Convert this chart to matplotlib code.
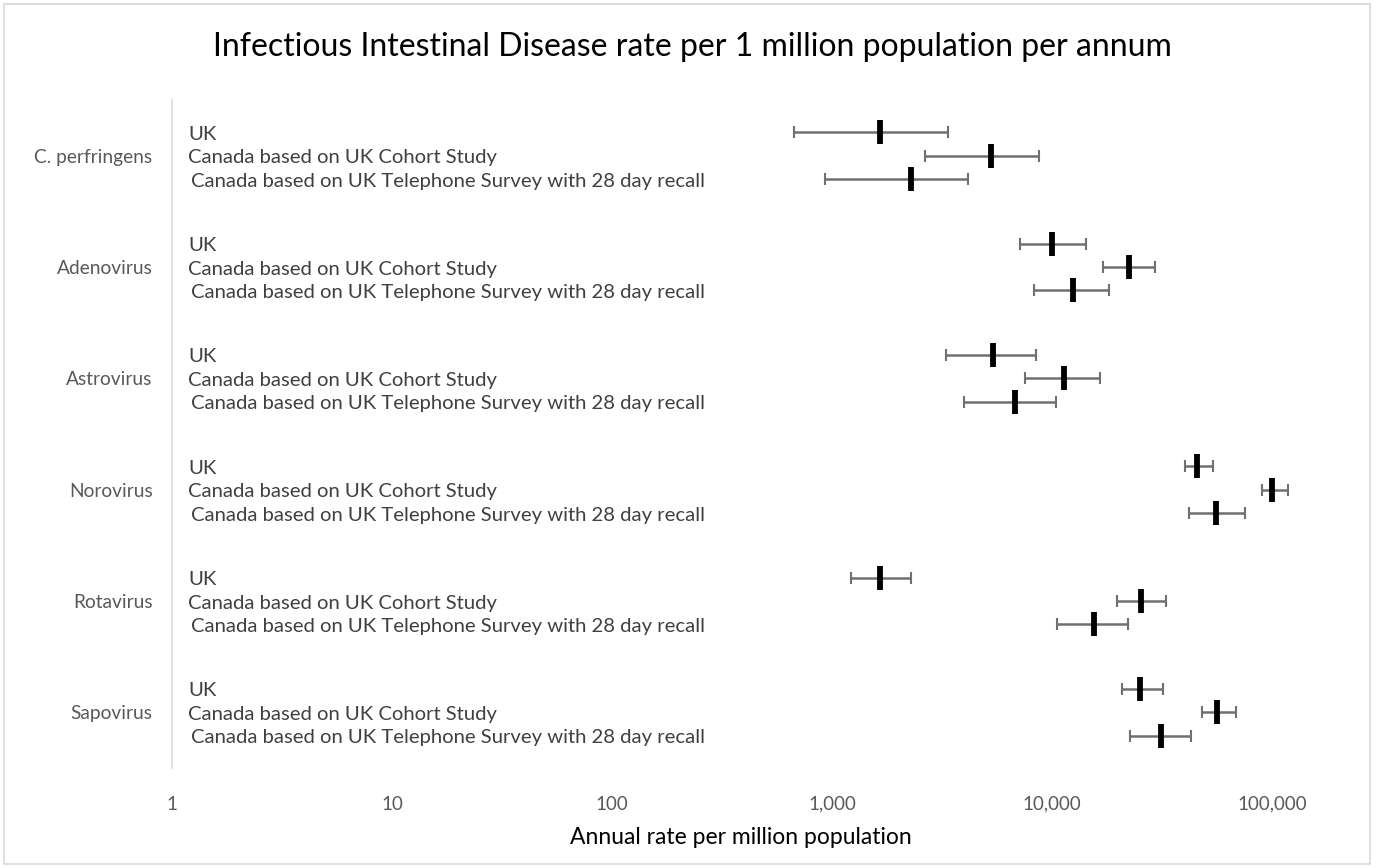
import numpy as np
import matplotlib
matplotlib.use("Agg")
import matplotlib.pyplot as plt
from matplotlib.patches import Rectangle
from matplotlib.ticker import FixedLocator, FuncFormatter

# Pathogens, top to bottom
pathogens = ["C. perfringens", "Adenovirus", "Astrovirus", "Norovirus", "Rotavirus", "Sapovirus"]
sources = ["UK",
           "Canada based on UK Cohort Study",
           "Canada based on UK Telephone Survey with 28 day recall"]

# Annual rate per million population: point estimate, lower and upper bounds
uk_mid = [1650, 10000, 5400, 45600, 1650, 25100]
uk_low = [670, 7150, 3300, 40200, 1220, 20800]
uk_high = [3370, 14300, 8450, 53900, 2290, 32000]

cohort_mid = [5280, 22400, 11300, 100000, 25400, 56200]
cohort_low = [2650, 17000, 7550, 90100, 19700, 48100]
cohort_high = [8700, 29400, 16500, 118000, 33000, 68600]

tel_mid = [2290, 12400, 6800, 55600, 15500, 31300]
tel_low = [930, 8300, 4000, 42000, 10500, 22600]
tel_high = [4150, 18200, 10400, 75400, 22100, 42800]

series = [(uk_mid, uk_low, uk_high),
          (cohort_mid, cohort_low, cohort_high),
          (tel_mid, tel_low, tel_high)]
row_offsets = [-0.211, 0.0, 0.211]
label_indent = [16, 16, 19]

plt.rcParams['font.family'] = ['Lato', 'DejaVu Sans']

fig = plt.figure(figsize=(13.78, 8.68), dpi=100)
ax = fig.add_axes([172 / 1378, 1 - 768 / 868, (1310 - 172) / 1378, (768 - 100) / 868])

cat_pos = np.arange(len(pathogens))
for (mid, low, high), off in zip(series, row_offsets):
    mid = np.array(mid, dtype=float)
    err = [mid - np.array(low), np.array(high) - mid]
    y = cat_pos + off
    ax.errorbar(mid, y, xerr=err, fmt='none', ecolor='#707070', elinewidth=1.8,
                capsize=4.3, capthick=1.5, zorder=2)
    ax.plot(mid, y, linestyle='none', marker='|', markersize=17,
            markeredgewidth=4.2, color='black', zorder=3)

# Row labels next to the axis
for i in cat_pos:
    for label, off, dx in zip(sources, row_offsets, label_indent):
        ax.annotate(label, xy=(0, i + off),
                    xycoords=('axes fraction', 'data'),
                    xytext=(dx, -2), textcoords='offset pixels',
                    ha='left', va='center', fontsize=14.6, color='#404040')

ax.set_xscale('log')
ax.set_xlim(1, 10 ** ((1310 - 172) / 220))
ax.set_ylim(len(pathogens) - 0.5, -0.5)

ax.xaxis.set_major_locator(FixedLocator([1, 10, 100, 1000, 10000, 100000]))
ax.xaxis.set_minor_locator(FixedLocator([]))
ax.xaxis.set_major_formatter(FuncFormatter(lambda v, p: f"{int(round(v)):,}"))
ax.set_yticks(cat_pos)
ax.set_yticklabels(pathogens)

ax.tick_params(axis='x', length=0, pad=20, labelsize=13.5, labelcolor='#595959')
ax.tick_params(axis='y', length=0, pad=14, labelsize=13.8, labelcolor='#595959')

for side in ['top', 'right', 'bottom']:
    ax.spines[side].set_visible(False)
ax.spines['left'].set_color('#d9d9d9')
ax.spines['left'].set_linewidth(1.2)

ax.set_xlabel("Annual rate per million population", fontsize=16.5, color='#000000',
              labelpad=10)
fig.text(0.5 * (172 + 1310) / 1378 - 0.035, 1 - 47 / 868,
         "Infectious Intestinal Disease rate per 1 million population per annum",
         ha='center', va='center', fontsize=23, color='black')

# Light outline around the chart area
fig.patches.append(Rectangle((4 / 1378, 4 / 868), (1370 - 4) / 1378, (864 - 4) / 868,
                             transform=fig.transFigure, fill=False,
                             edgecolor='#d9d9d9', linewidth=1.2))

fig.savefig("out.png", dpi=100)
